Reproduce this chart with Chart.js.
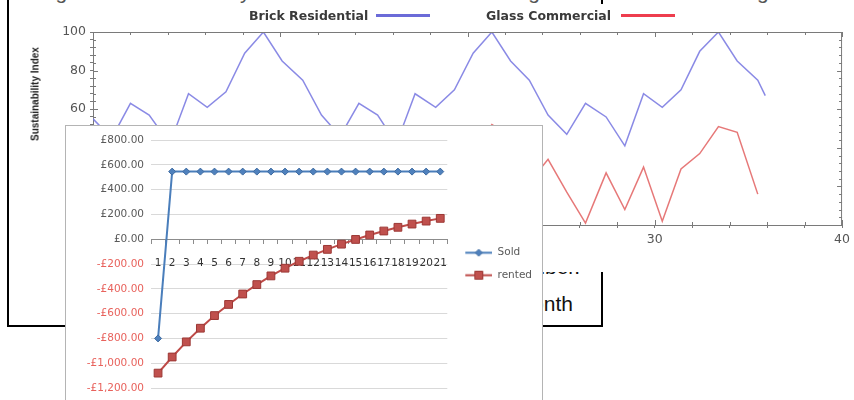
<!DOCTYPE html>
<html>
<head>
<meta charset="utf-8">
<script src="https://cdn.jsdelivr.net/npm/chart.js@4.4.1/dist/chart.umd.min.js"></script>
<style>
  html, body { margin: 0; padding: 0; background: #fff; }
  body { width: 854px; height: 400px; overflow: hidden; position: relative; font-family: "Liberation Sans", Arial, sans-serif; }
  #docBox { position: absolute; left: 7px; top: -60px; width: 596px; height: 387px; box-sizing: border-box; border: 2px solid #000; z-index: 1; }
  .docLine { position: absolute; white-space: nowrap; font-family: "Liberation Sans", Arial, sans-serif; font-size: 21px; line-height: 21px; color: #111; z-index: 1; }
  #bgWrap { position: absolute; left: 10px; top: 4px; width: 844px; height: 268px; background: #fff; z-index: 2; }
  .bgLegendText { position: absolute; top: 9px; font-family: "DejaVu Sans", sans-serif; font-weight: bold; font-size: 12.5px; line-height: 14px; color: #3a3a3a; white-space: nowrap; z-index: 3; }
  .bgLegendLine { position: absolute; top: 14px; height: 3px; z-index: 3; }
  #yTitle { position: absolute; left: 35px; top: 94px; transform: translate(-50%, -50%) rotate(-90deg); font-family: "Liberation Sans", Arial, sans-serif; font-weight: bold; font-size: 10px; color: #222; white-space: nowrap; z-index: 3; }
  #insetWrap { position: absolute; left: 65px; top: 125px; width: 478px; height: 290px; box-sizing: border-box; border: 1px solid #b4b4b4; background: #fff; z-index: 4; }
  canvas { display: block; }
</style>
</head>
<body>
<div id="docBox"></div>
<span class="docLine" style="left:38px; top:-19px; color:#555;">Figure 3: Sustainability index of brick residential and glass commercial buildings</span>
<span class="docLine" style="right:274px; top:256px;">number.</span>
<span class="docLine" style="right:281px; top:293px;">month</span>

<div id="bgWrap"><canvas id="bgCanvas" width="844" height="268"></canvas></div>
<span class="bgLegendText" style="left:249px;">Brick Residential</span>
<div class="bgLegendLine" style="left:376px; width:54px; background:#6b6bd8;"></div>
<span class="bgLegendText" style="left:486px;">Glass Commercial</span>
<div class="bgLegendLine" style="left:621px; width:54px; background:#ee3d4e;"></div>
<div id="yTitle">Sustainability Index</div>

<div id="insetWrap"><canvas id="insetCanvas" width="476" height="288"></canvas></div>

<script>
// ---- Sustainability index series (month position on the x axis) ----
const monthPositions = [0, 1.0, 2.0, 3.0, 4.1, 5.1, 6.1, 7.1, 8.1, 9.1, 10.1, 11.2,
  12.2, 13.2, 14.2, 15.2, 16.2, 17.2, 18.3, 19.3, 20.3, 21.3, 22.3, 23.3,
  24.3, 25.3, 26.3, 27.4, 28.4, 29.4, 30.4, 31.4, 32.4, 33.4, 34.4, 35.5, 35.9];
const brickResidential = [55, 45, 63, 57, 42, 68, 61, 69, 89, 100, 85, 75,
  57, 46, 63, 57, 42, 68, 61, 70, 89, 100, 85, 75,
  57, 47, 63, 56, 41, 68, 61, 70, 90, 100, 85, 75, 67];
const glassCommercial = [30, 16, 3, 26, 9, 29, 3, 28, 38, 50, 47, 20,
  33, 15, 2, 27, 7, 31, 1, 30, 36, 52, 46, 22,
  34, 17, 1, 27, 8, 30, 2, 29, 37, 51, 48, 16];
const indexLabelValues = [0, 20, 40, 60, 80, 100];
const monthLabelValues = [0, 10, 20, 30, 40];

// ---- Sold vs rented balance by year ----
const paybackYears = ['1', '2', '3', '4', '5', '6', '7', '8', '9', '10', '11',
  '12', '13', '14', '15', '16', '17', '18', '19', '20', '21'];
const soldBalance = [-800, 545, 545, 545, 545, 545, 545, 545, 545, 545, 545,
  545, 545, 545, 545, 545, 545, 545, 545, 545, 545];
const rentedBalance = [-1080, -950, -828, -718, -616, -526, -442, -366, -296, -234, -178,
  -128, -82, -40, -2, 34, 66, 96, 122, 146, 168];
const balanceTickStep = 200;

// Frame ticks on all four sides of the plot box
const boxTicks = {
  id: 'boxTicks',
  afterDraw(chart) {
    const { ctx, chartArea: a, scales: { x, y } } = chart;
    ctx.save();
    ctx.strokeStyle = '#7a7a7a';
    ctx.lineWidth = 1;
    ctx.beginPath();
    ctx.moveTo(a.left, a.top + 0.5); ctx.lineTo(a.right, a.top + 0.5);
    ctx.moveTo(a.right - 0.5, a.top); ctx.lineTo(a.right - 0.5, a.bottom);
    x.ticks.forEach(t => {
      const px = Math.round(x.getPixelForValue(t.value)) + 0.5;
      const len = monthLabelValues.includes(t.value) ? 5 : 3;
      ctx.moveTo(px, a.bottom); ctx.lineTo(px, a.bottom - len);
      ctx.moveTo(px, a.top); ctx.lineTo(px, a.top + len);
    });
    y.ticks.forEach(t => {
      const py = Math.round(y.getPixelForValue(t.value)) + 0.5;
      const len = indexLabelValues.includes(t.value) ? 5 : 3;
      ctx.moveTo(a.left, py); ctx.lineTo(a.left + len, py);
      ctx.moveTo(a.right, py); ctx.lineTo(a.right - len, py);
    });
    ctx.stroke();
    ctx.restore();
  }
};

new Chart(document.getElementById('bgCanvas'), {
  type: 'line',
  data: {
    datasets: [
      {
        label: 'Brick Residential',
        data: brickResidential.map((v, i) => ({ x: monthPositions[i], y: v })),
        borderColor: 'rgba(118,118,224,0.85)',
        borderWidth: 1.5,
        pointRadius: 0,
        tension: 0
      },
      {
        label: 'Glass Commercial',
        data: glassCommercial.map((v, i) => ({ x: monthPositions[i], y: v })),
        borderColor: 'rgba(226,96,96,0.85)',
        borderWidth: 1.5,
        pointRadius: 0,
        tension: 0
      }
    ]
  },
  options: {
    responsive: false,
    animation: false,
    devicePixelRatio: 1,
    layout: { padding: { top: 28, right: 7, left: 0, bottom: 0 } },
    plugins: { legend: { display: false }, tooltip: { enabled: false } },
    scales: {
      x: {
        type: 'linear', min: 0, max: 40,
        afterFit(s) { s.height = 47; },
        ticks: {
          stepSize: 2, autoSkip: false, maxRotation: 0, padding: 4,
          callback: v => monthLabelValues.includes(v) ? String(v) : '',
          font: { family: 'DejaVu Sans', size: 12.5 }, color: '#555'
        },
        grid: { drawOnChartArea: false, tickLength: 3, color: '#7a7a7a' },
        border: { color: '#7a7a7a' }
      },
      y: {
        min: 0, max: 100,
        afterFit(s) { s.width = 83; },
        ticks: {
          stepSize: 4, autoSkip: false, padding: 4,
          callback: v => indexLabelValues.includes(v) ? String(v) : '',
          font: { family: 'DejaVu Sans', size: 12.5 }, color: '#555'
        },
        grid: { drawOnChartArea: false, tickLength: 3, color: '#7a7a7a' },
        border: { color: '#7a7a7a' }
      }
    }
  },
  plugins: [boxTicks]
});

// Legend swatches: short line with the series marker on it, drawn after a small lead-in gap
const swatchLead = 6;
function makeSwatch(lineColor, fill, edge, shape) {
  const c = document.createElement('canvas');
  c.width = 27 + swatchLead; c.height = 11;
  const g = c.getContext('2d');
  const x0 = swatchLead;
  g.strokeStyle = lineColor; g.lineWidth = 2;
  g.beginPath(); g.moveTo(x0, 5.5); g.lineTo(x0 + 27, 5.5); g.stroke();
  g.fillStyle = fill; g.strokeStyle = edge; g.lineWidth = 1;
  g.beginPath();
  if (shape === 'diamond') {
    g.moveTo(x0 + 13.5, 2); g.lineTo(x0 + 17, 5.5); g.lineTo(x0 + 13.5, 9); g.lineTo(x0 + 10, 5.5); g.closePath();
  } else {
    g.rect(x0 + 9.5, 1.5, 8, 8);
  }
  g.fill(); g.stroke();
  return c;
}
const legendSwatches = [
  makeSwatch('#4a7ebb', '#4f81bd', '#3d6aa0', 'diamond'),
  makeSwatch('#be4b48', '#c0504d', '#9c3835', 'square')
];

function formatPounds(v) {
  const s = '£' + Math.abs(v).toLocaleString('en-GB', { minimumFractionDigits: 2, maximumFractionDigits: 2 });
  return v < 0 ? '-' + s : s;
}

new Chart(document.getElementById('insetCanvas'), {
  type: 'line',
  data: {
    labels: paybackYears,
    datasets: [
      {
        label: 'Sold', data: soldBalance,
        borderColor: '#4a7ebb', backgroundColor: '#4f81bd', borderWidth: 2,
        pointStyle: 'rectRot', pointRadius: 3.5,
        pointBackgroundColor: '#4f81bd', pointBorderColor: '#3d6aa0', pointBorderWidth: 1,
        tension: 0
      },
      {
        label: 'rented', data: rentedBalance,
        borderColor: '#be4b48', backgroundColor: '#c0504d', borderWidth: 2,
        pointStyle: 'rect', pointRadius: 5.5,
        pointBackgroundColor: '#c0504d', pointBorderColor: '#9c3835', pointBorderWidth: 1,
        tension: 0
      }
    ]
  },
  options: {
    responsive: false,
    animation: false,
    devicePixelRatio: 1,
    layout: { padding: { top: 14, right: 0, bottom: 26, left: 0 } },
    plugins: {
      tooltip: { enabled: false },
      legend: {
        position: 'right',
        labels: {
          usePointStyle: true, pointStyleWidth: 27 + swatchLead, padding: 12,
          font: { family: 'DejaVu Sans', size: 10.5 }, color: '#595959',
          generateLabels(chart) {
            const items = Chart.defaults.plugins.legend.labels.generateLabels(chart);
            items.forEach((it, i) => { it.pointStyle = legendSwatches[i]; });
            return items;
          }
        }
      }
    },
    scales: {
      x: {
        type: 'category', position: { y: 0 }, offset: true,
        grid: { drawOnChartArea: false, offset: true, tickLength: 4, color: '#8c8c8c' },
        border: { color: '#8c8c8c' },
        ticks: { autoSkip: false, maxRotation: 0, minRotation: 0, padding: 14,
          font: { family: 'DejaVu Sans', size: 10.5 }, color: '#333' }
      },
      y: {
        min: -1200, max: 800,
        afterFit(s) { s.width = 85; },
        ticks: {
          stepSize: balanceTickStep, padding: 7, callback: formatPounds,
          font: { family: 'DejaVu Sans', size: 10.5 },
          color: ctx => (ctx.tick && ctx.tick.value < 0) ? '#e8625c' : '#595959'
        },
        grid: { color: '#d9d9d9', drawTicks: false },
        border: { display: false }
      }
    }
  }
});
</script>
</body>
</html>
